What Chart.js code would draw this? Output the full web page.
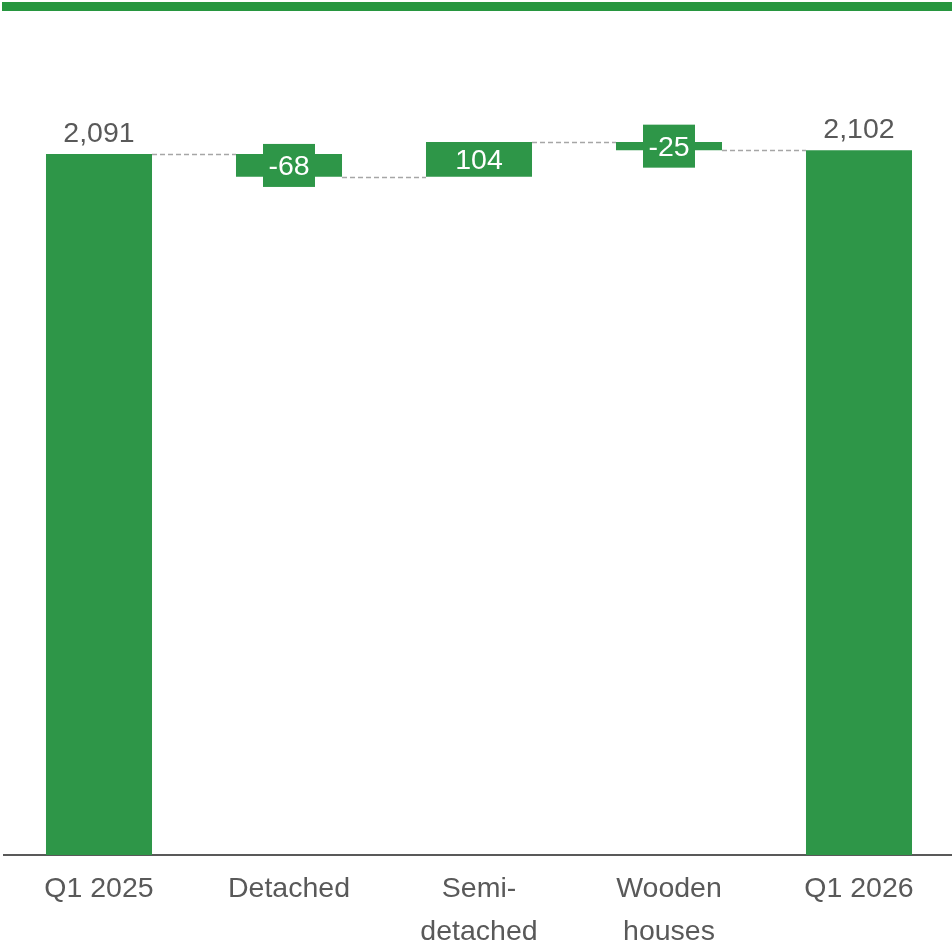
<!DOCTYPE html>
<html>
<head>
<meta charset="utf-8">
<script src="https://cdn.jsdelivr.net/npm/chart.js@4"></script>
<style>
  html, body { margin: 0; padding: 0; background: #fff; overflow: hidden; }
  #wrap { position: relative; width: 952px; height: 943px; overflow: hidden; }
  #topband { position: absolute; left: 2px; top: 2px; width: 952px; height: 9px; background: #27963f; }
  #grafico { position: absolute; left: 0; top: 0; }
</style>
</head>
<body>
<div id="wrap">
  <div id="topband"></div>
  <canvas id="grafico" width="954" height="943" style="width:954px;height:943px"></canvas>
</div>
<script>
// Datos del gráfico (cascada)
const categorias = [['Q1 2025'], ['Detached'], ['Semi-', 'detached'], ['Wooden', 'houses'], ['Q1 2026']];
const valores = [2091, -68, 104, -25, 2102];
const esTotal = [true, false, false, false, true];

const verde = '#2e9648';
const gris = '#595959';

// Construye las barras flotantes a partir de los valores
const barras = [];
let acumulado = 0;
valores.forEach(function(v, i) {
    if (esTotal[i]) {
        barras.push([0, v]);
        acumulado = v;
    } else {
        barras.push([acumulado, acumulado + v]);
        acumulado += v;
    }
});

function formato(v) {
    return v.toLocaleString('en-US');
}

// Plugin para conectores y etiquetas
const cascadaPlugin = {
    id: 'cascada',
    afterDatasetsDraw(chart) {
        const ctx = chart.ctx;
        const meta = chart.getDatasetMeta(0);
        const y = chart.scales.y;
        ctx.save();
        // Conectores punteados
        ctx.strokeStyle = '#a6a6a6';
        ctx.lineWidth = 1.3;
        ctx.setLineDash([5, 3]);
        for (let i = 0; i < barras.length - 1; i++) {
            const a = meta.data[i];
            const b = meta.data[i + 1];
            const nivel = barras[i][1];
            const py = Math.round(y.getPixelForValue(nivel)) + 0.5;
            ctx.beginPath();
            ctx.moveTo(a.x + a.width / 2, py);
            ctx.lineTo(b.x - b.width / 2, py);
            ctx.stroke();
        }
        ctx.setLineDash([]);
        // Etiquetas
        ctx.font = '28.5px "Liberation Sans", Arial, sans-serif';
        ctx.textAlign = 'center';
        ctx.textBaseline = 'middle';
        meta.data.forEach(function(el, i) {
            const v = valores[i];
            if (esTotal[i]) {
                ctx.fillStyle = gris;
                ctx.fillText(formato(v), el.x, y.getPixelForValue(barras[i][1]) - 20);
            } else {
                const cy = (y.getPixelForValue(barras[i][0]) + y.getPixelForValue(barras[i][1])) / 2;
                if (v < 0) {
                    ctx.fillStyle = verde;
                    ctx.fillRect(el.x - 26, cy - 21.5, 52, 43);
                }
                ctx.fillStyle = '#ffffff';
                ctx.fillText(formato(v), el.x, cy + 2);
            }
        });
        ctx.restore();
    }
};

const ctx = document.getElementById('grafico').getContext('2d');
const chart = new Chart(ctx, {
    type: 'bar',
    data: {
        labels: categorias,
        datasets: [{
            data: barras,
            backgroundColor: verde,
            borderWidth: 0,
            borderSkipped: false,
            categoryPercentage: 1,
            barPercentage: 0.558
        }]
    },
    options: {
        responsive: false,
        animation: false,
        layout: { padding: { top: 117.5, left: 4, right: 0, bottom: 0 } },
        plugins: {
            legend: { display: false },
            tooltip: { enabled: false }
        },
        scales: {
            x: {
                grid: { display: false, drawTicks: false },
                border: { display: true, color: gris, width: 2 },
                ticks: {
                    color: gris,
                    padding: 12,
                    maxRotation: 0,
                    autoSkip: false,
                    font: { family: '"Liberation Sans", Arial, sans-serif', size: 28.5, lineHeight: 1.52 }
                },
                afterFit: function(scale) { scale.height = 88; }
            },
            y: {
                display: false,
                min: 0,
                max: 2200
            }
        }
    },
    plugins: [cascadaPlugin]
});
</script>
</body>
</html>
